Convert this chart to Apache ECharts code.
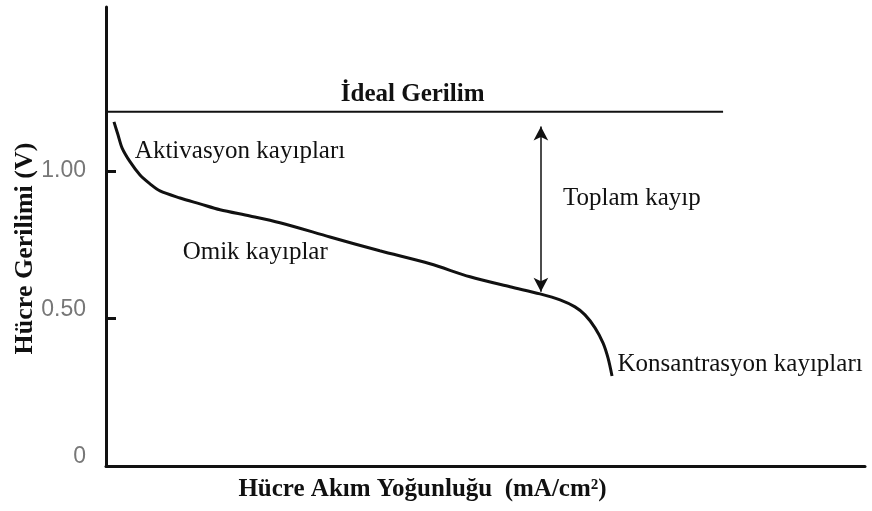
<!DOCTYPE html>
<html>
<head>
<meta charset="utf-8">
<script src="https://cdn.jsdelivr.net/npm/echarts@6/dist/echarts.min.js"></script>
<style>
  html, body { margin: 0; padding: 0; background: #fff; }
  #chart { width: 872px; height: 511px; }
</style>
</head>
<body>
<div id="chart"></div>
<script>
// polarization curve (x = relative current density, y = volts)
const currentDensity = [1.05, 1.58, 2.11, 3.16, 4.48, 5.80, 7.11, 9.75, 12.38, 15.02, 18.97, 22.92,
    29.51, 36.07, 42.69, 47.96, 53.23, 57.18, 59.82, 61.79, 63.11, 64.43, 65.48, 66.14, 66.67];
const cellVoltage = [1.166, 1.122, 1.078, 1.031, 0.986, 0.956, 0.932, 0.908, 0.888, 0.868, 0.847, 0.824,
    0.776, 0.729, 0.685, 0.641, 0.607, 0.583, 0.563, 0.539, 0.512, 0.468, 0.417, 0.366, 0.305];

const idealVoltage = 1.2;
const idealRange = [0.15, 81.3];
const lossArrowX = 57.3;
const lossArrowRange = [0.59, 1.15];

const yTicks = [0.5, 1.0];
const yLabels = [0, 0.5, 1.0];

const serif = 'Liberation Serif';

const chart = echarts.init(document.getElementById('chart'), null, { renderer: 'canvas' });

// small helper for the text notes on the plot
function note(text, x, y, opts = {}) {
    return {
        coord: [x, y],
        symbolSize: 0,
        label: Object.assign({
            show: true,
            position: 'right',
            distance: 0,
            formatter: text,
            fontFamily: serif,
            fontSize: 25,
            color: '#111'
        }, opts)
    };
}

const option = {
    animation: false,
    backgroundColor: '#fff',
    grid: { left: 106, right: 7, top: 7, bottom: 45, containLabel: false, outerBoundsMode: 'none' },
    xAxis: {
        type: 'value',
        min: 0,
        max: 100,
        name: 'Hücre Akım Yoğunluğu  (mA/cm²)',
        nameLocation: 'middle',
        nameGap: 11,
        nameTextStyle: {
            fontFamily: serif, fontWeight: 'bold', fontSize: 25, color: '#111',
            verticalAlign: 'top', padding: [0, 126, 0, 0]
        },
        axisLine: { show: true, lineStyle: { color: '#111', width: 3 } },
        axisTick: { show: false },
        axisLabel: { show: false },
        splitLine: { show: false }
    },
    yAxis: {
        type: 'value',
        min: 0,
        max: 1.555,
        name: 'Hücre Gerilimi (V)',
        nameLocation: 'middle',
        nameRotate: 90,
        nameGap: 81,
        nameMoveOverlap: false,
        nameTextStyle: {
            fontFamily: serif, fontWeight: 'bold', fontSize: 26, color: '#111',
            verticalAlign: 'middle', padding: [0, 0, 0, -24]
        },
        axisLine: { show: true, lineStyle: { color: '#111', width: 3 } },
        axisTick: {
            show: true,
            inside: true,
            length: 10,
            customValues: yTicks,
            lineStyle: { color: '#111', width: 3 }
        },
        axisLabel: {
            customValues: yLabels,
            margin: 20,
            fontFamily: 'Liberation Sans',
            fontSize: 23,
            color: '#777',
            formatter: v => (v === 1 ? '{n|1.00}' : '{u|' + (v === 0 ? '0' : v.toFixed(2)) + '}'),
            rich: {
                n: { fontFamily: 'Liberation Sans', fontSize: 23, color: '#777' },
                u: { fontFamily: 'Liberation Sans', fontSize: 23, color: '#777', padding: [0, 0, 18, 0] }
            }
        },
        splitLine: { show: false }
    },
    series: [
        {
            name: 'İdeal Gerilim',
            type: 'line',
            data: idealRange.map(x => [x, idealVoltage]),
            symbol: 'none',
            lineStyle: { color: '#111', width: 2 },
            markPoint: {
                data: [note('İdeal Gerilim', 40.4, 1.259, { position: 'inside', fontWeight: 'bold' })]
            },
            z: 3
        },
        {
            name: 'Hücre Gerilimi',
            type: 'line',
            data: currentDensity.map((x, i) => [x, cellVoltage[i]]),
            symbol: 'none',
            smooth: 0.3,
            lineStyle: { color: '#111', width: 3 },
            markPoint: {
                data: [
                    note('Aktivasyon kayıpları', 3.8, 1.064),
                    note('Omik kayıplar', 10.1, 0.722),
                    note('Toplam kayıp', 60.2, 0.908),
                    note('Konsantrasyon kayıpları', 67.4, 0.343)
                ]
            },
            markLine: {
                silent: true,
                symbol: ['arrow', 'arrow'],
                symbolSize: [11, 14],
                label: { show: false },
                lineStyle: { color: '#111', width: 1.5, type: 'solid' },
                data: [[
                    { coord: [lossArrowX, lossArrowRange[0]] },
                    { coord: [lossArrowX, lossArrowRange[1]] }
                ]]
            },
            z: 4
        }
    ]
};

chart.setOption(option);
</script>
</body>
</html>
